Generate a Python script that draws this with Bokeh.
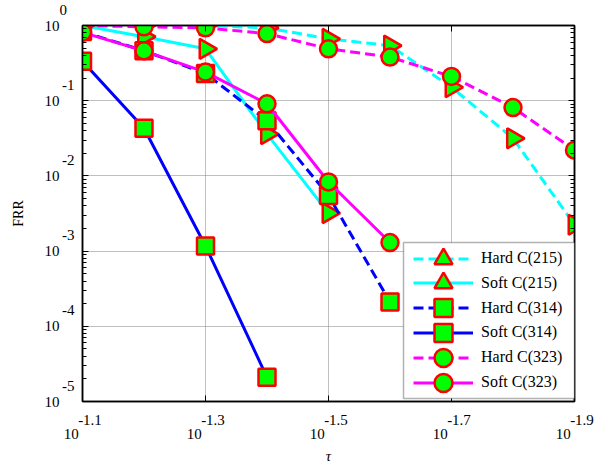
import numpy as np
from bokeh.plotting import figure
from bokeh.models import (Range1d, FixedTicker, LogAxis, Legend,
                          LegendItem, BoxAnnotation, CustomJSTickFormatter)
from bokeh.embed import file_html
from bokeh.resources import INLINE

# ---------------- data ----------------
tau_exp = [-1.1, -1.2, -1.3, -1.4, -1.5, -1.6, -1.7, -1.8, -1.9]
tau = [10 ** e for e in tau_exp]

hard_215 = [1.0, 1.0, 1.0, 0.93, 0.665, 0.54, 0.151, 0.0316, 0.00224]
soft_215 = [1.0, 0.71, 0.49, 0.036, 0.0032]
hard_314 = [0.83, 0.46, 0.23, 0.054, 0.0055, 0.00021]
soft_314 = [0.335, 0.043, 0.00117, 0.000021]
hard_323 = [1.0, 0.96, 0.93, 0.78, 0.49, 0.38, 0.21, 0.081, 0.022]
soft_323 = [0.81, 0.46, 0.24, 0.091, 0.0083, 0.0013]

series_names = ["Hard C(215)", "Soft C(215)", "Hard C(314)",
                "Soft C(314)", "Hard C(323)", "Soft C(323)"]
series_values = [hard_215, soft_215, hard_314, soft_314, hard_323, soft_323]

x_tick_exp = [-1.1, -1.3, -1.5, -1.7, -1.9]
y_tick_exp = [0, -1, -2, -3, -4, -5]
x_title = "τ"
y_title = "FRR"

# ---------------- styles ----------------
colors = ["#00FFFF", "#00FFFF", "#0000FF", "#0000FF", "#FF00FF", "#FF00FF"]
dashes = ["10 5", "solid", "10 5", "solid", "10 5", "solid"]
markers = ["triangle", "triangle", "square", "square", "circle", "circle"]
msizes = [20, 20, 17, 17, 17, 17]
angles = [-np.pi / 2, -np.pi / 2, 0, 0, 0, 0]

FONT = "Liberation Serif"
EN = "\u2002"
NB = "\u00a0"

p = figure(width=614, height=466, x_axis_type="log", y_axis_type="log",
           x_range=Range1d(tau[0], tau[-1]), y_range=Range1d(1e-5, 1),
           output_backend="svg", toolbar_location=None,
           min_border_left=82, min_border_right=40,
           min_border_top=25, min_border_bottom=65)

bottom_axis = p.below[0]
left_axis = p.left[0]

x_ticks = [10 ** e for e in x_tick_exp]
y_ticks = [10.0 ** e for e in y_tick_exp]
xt = FixedTicker(ticks=x_ticks, minor_ticks=[])
yt = FixedTicker(ticks=y_ticks,
                 minor_ticks=[m * 10.0 ** e for e in range(-5, 0) for m in range(2, 10)])

bottom_axis.ticker = xt
left_axis.ticker = yt
top_axis = LogAxis(ticker=xt)
right_axis = LogAxis(ticker=yt)
p.add_layout(top_axis, "above")
p.add_layout(right_axis, "right")

blank = CustomJSTickFormatter(code="return ''")
for ax in [bottom_axis, left_axis, top_axis, right_axis]:
    ax.major_tick_in = 6
    ax.major_tick_out = 0
    ax.minor_tick_in = 4
    ax.minor_tick_out = 0
    ax.axis_line_width = 1.5
    ax.axis_line_color = "black"
    ax.major_tick_line_color = "black"
    ax.minor_tick_line_color = "black"
    ax.major_label_text_font = FONT
    ax.major_label_text_font_size = "15px"
    ax.major_label_text_color = "black"
    ax.axis_label_text_font = FONT
    ax.axis_label_text_color = "black"
for ax in [top_axis, right_axis]:
    ax.formatter = blank
    ax.major_label_standoff = 0

# "10" with its exponent above and to the right, as multi-line tick labels
y_over = {}
for t, e in zip(y_ticks, y_tick_exp):
    ex = str(e)
    pad = EN if len(ex) == 1 else ""
    y_over[t] = ex + pad + "\n10" + EN + EN + "\n" + NB
left_axis.major_label_overrides = y_over
left_axis.major_label_standoff = 8
left_axis.major_label_text_line_height = 1.0
left_axis.axis_label = y_title
left_axis.axis_label_text_font_size = "14px"
left_axis.axis_label_text_font_style = "normal"
left_axis.axis_label_standoff = 16

x_over = {}
for t, e in zip(x_ticks, x_tick_exp):
    x_over[t] = EN + EN + f"{e:.1f}" + "\n10" + EN + EN + EN
bottom_axis.major_label_overrides = x_over
bottom_axis.major_label_standoff = 10
bottom_axis.major_label_text_line_height = 0.9
bottom_axis.axis_label = x_title
bottom_axis.axis_label_text_font_size = "15px"
bottom_axis.axis_label_text_font_style = "italic"
bottom_axis.axis_label_standoff = 3

p.outline_line_color = "black"
p.outline_line_width = 1.5

for g in [p.xgrid[0], p.ygrid[0]]:
    g.grid_line_color = "#808080"
    g.grid_line_dash = "1 1"
    g.grid_line_width = 1

items = []
for name, vals, c, d, m, s, a in zip(series_names, series_values, colors,
                                     dashes, markers, msizes, angles):
    xs = tau[:len(vals)]
    rl = p.line(xs, vals, line_color=c, line_width=3, line_dash=d)
    rs = p.scatter(xs, vals, marker=m, size=s, angle=a, fill_color="#00FF00",
                   line_color="#FF0000", line_width=2.5)
    items.append(LegendItem(label=name, renderers=[rl, rs]))

# legend frame
box = BoxAnnotation(left=403, right=574, top=242, bottom=398,
                    left_units="canvas", right_units="canvas",
                    top_units="canvas", bottom_units="canvas",
                    fill_color="white", fill_alpha=1.0,
                    line_color="black", line_width=1.5)
p.add_layout(box)

# one legend per entry so that the rows can sit closer than the glyph boxes
for i, it in enumerate(items):
    lg = Legend(items=[it], location=(331, 120.5 - 24.8 * i),
                glyph_width=60, glyph_height=45,
                padding=0, margin=0, label_standoff=8,
                border_line_alpha=0, background_fill_alpha=0,
                label_text_font=FONT, label_text_font_size="16px",
                label_text_color="black")
    p.add_layout(lg, "center")

open("out.html", "w").write(file_html(p, INLINE))
